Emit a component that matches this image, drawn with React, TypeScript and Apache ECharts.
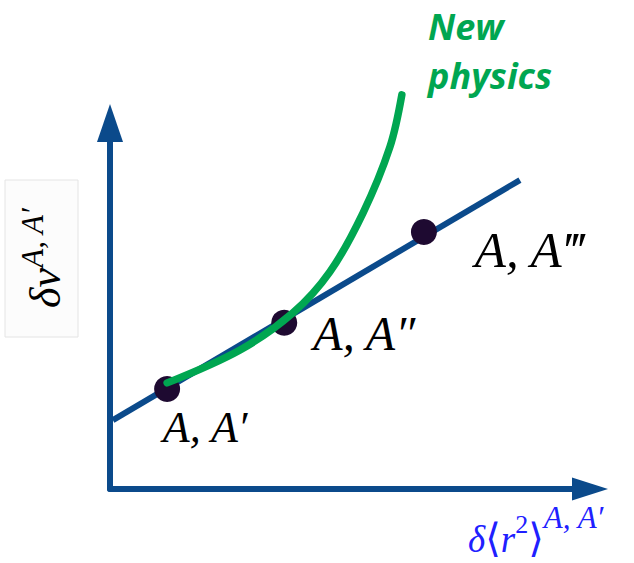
import React, { useEffect, useRef } from 'react';
import * as echarts from 'echarts';

// King-plot style sketch: isotope pairs on a straight line, with a curved
// "new physics" deviation.
const pointNames = ['A, A′', 'A, A″', 'A, A‴'];
const pointX = [1.19, 3.63, 6.54];
const pointY = [2.73, 4.54, 7.02];

const lineX = [0.06, 8.54];
const lineY = [1.88, 8.44];

const curveX = [1.19, 2.71, 3.81, 4.58, 5.27, 5.83, 6.08];
const curveY = [2.9, 3.8, 4.81, 5.93, 7.54, 9.34, 10.77];

const AXIS_BLUE = '#0b4a8b';
const GREEN = '#00a651';
const DOT = '#1e0a31';
const SERIF = '"Liberation Serif", "DejaVu Serif", serif';

// label placement for each pair label (offset from the dot, font size)
const labelStyles = [
  { offset: [38, 38], fontSize: 44 },
  { offset: [80, 11], fontSize: 48 },
  { offset: [105, 18], fontSize: 51 },
];

export default function App() {
  const ref = useRef<HTMLDivElement>(null);

  useEffect(() => {
    if (!ref.current) return;
    const chart = echarts.init(ref.current, null, { renderer: 'svg' });

    const pointData = pointNames.map((name, i) => ({
      name,
      value: [pointX[i], pointY[i]],
      label: {
        offset: labelStyles[i].offset,
        fontSize: labelStyles[i].fontSize,
      },
    }));

    const greenText = {
      fontFamily: '"Open Sans", sans-serif',
      fontStyle: 'italic',
      fontWeight: 'bold',
      fontSize: 36,
      fill: GREEN,
      align: 'left',
      verticalAlign: 'middle',
    };

    chart.setOption({
      animation: false,
      backgroundColor: '#ffffff',
      grid: { left: 110, right: 44, top: 123, bottom: 74 },
      xAxis: {
        type: 'value',
        min: 0,
        max: 10,
        axisLine: {
          show: true,
          symbol: ['none', 'triangle'],
          symbolSize: [23, 36],
          lineStyle: { color: AXIS_BLUE, width: 6 },
        },
        axisTick: { show: false },
        axisLabel: { show: false },
        splitLine: { show: false },
      },
      yAxis: {
        type: 'value',
        min: 0,
        max: 10,
        axisLine: {
          show: true,
          symbol: ['none', 'triangle'],
          symbolSize: [26, 38],
          lineStyle: { color: AXIS_BLUE, width: 6 },
        },
        axisTick: { show: false },
        axisLabel: { show: false },
        splitLine: { show: false },
      },
      series: [
        {
          type: 'line',
          data: lineX.map((x, i) => [x, lineY[i]]),
          showSymbol: false,
          lineStyle: { color: AXIS_BLUE, width: 6 },
          z: 1,
        },
        {
          type: 'scatter',
          data: pointData,
          symbol: 'circle',
          symbolSize: 26,
          itemStyle: { color: DOT, opacity: 1 },
          emphasis: { disabled: true },
          label: {
            show: true,
            position: 'inside',
            formatter: '{b}',
            align: 'center',
            verticalAlign: 'middle',
            color: '#000000',
            opacity: 1,
            fontFamily: SERIF,
            fontStyle: 'italic',
          },
          z: 2,
        },
        {
          type: 'line',
          data: curveX.map((x, i) => [x, curveY[i]]),
          smooth: 0.35,
          showSymbol: false,
          clip: false,
          lineStyle: { color: GREEN, width: 7.5, cap: 'round' },
          z: 3,
        },
      ],
      graphic: [
        {
          type: 'rect',
          shape: { x: 5, y: 180, width: 73, height: 157 },
          style: { fill: '#fcfcfc', stroke: '#e4e4e4', lineWidth: 1 },
          z: 0,
        },
        {
          type: 'text',
          x: 42,
          y: 258,
          rotation: Math.PI / 2,
          style: {
            text: '{i|δν}{s|A, A′}',
            align: 'center',
            verticalAlign: 'middle',
            fill: '#000000',
            rich: {
              i: { fontFamily: SERIF, fontStyle: 'italic', fontSize: 44, lineHeight: 50, verticalAlign: 'bottom', fill: '#000000' },
              s: { fontFamily: SERIF, fontStyle: 'italic', fontSize: 31, lineHeight: 32, verticalAlign: 'top', fill: '#000000' },
            },
          },
          z: 5,
        },
        {
          type: 'text',
          x: 468,
          y: 530,
          style: {
            text: '{i|δ}{u|⟨}{i|r}{t|2}{u|⟩}{s|A, A′}',
            align: 'left',
            verticalAlign: 'middle',
            fill: '#2020ff',
            rich: {
              i: { fontFamily: SERIF, fontStyle: 'italic', fontSize: 37, lineHeight: 56, verticalAlign: 'bottom', fill: '#2020ff' },
              u: { fontFamily: SERIF, fontSize: 40, lineHeight: 56, verticalAlign: 'bottom', fill: '#2020ff' },
              t: { fontFamily: SERIF, fontSize: 26, lineHeight: 30, verticalAlign: 'top', padding: [9, 0, 0, 0], fill: '#2020ff' },
              s: { fontFamily: SERIF, fontStyle: 'italic', fontSize: 31, lineHeight: 30, verticalAlign: 'top', fill: '#2020ff' },
            },
          },
          z: 5,
        },
        {
          type: 'text',
          x: 428,
          y: 26,
          style: { ...greenText, text: 'New' },
          z: 5,
        },
        {
          type: 'text',
          x: 428,
          y: 75,
          style: { ...greenText, text: 'physics' },
          z: 5,
        },
      ],
    });

    return () => chart.dispose();
  }, []);

  return (
    <div
      ref={ref}
      style={{ position: 'absolute', left: 0, top: 0, width: 634, height: 563, background: '#ffffff' }}
    />
  );
}
